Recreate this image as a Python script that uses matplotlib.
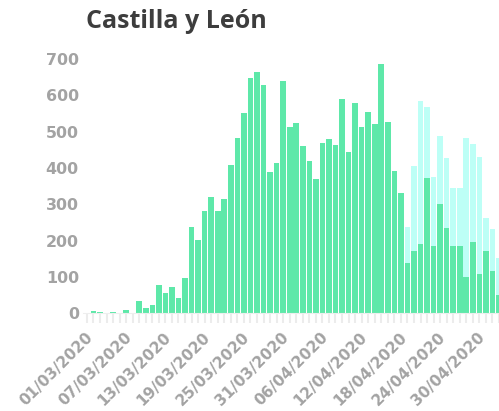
"""daily cases bar chart - Castilla y Leon"""

import matplotlib
matplotlib.use('Agg')
import matplotlib.pyplot as plt
import matplotlib.transforms as mtransforms
import numpy as np
import pandas as pd

# daily values, one per day from 01/03/2020
first_day = '2020-03-01'
green = [0, 6, 4, 0, 3, 0, 8, 1, 33, 15,
         22, 79, 55, 72, 42, 98, 239, 201, 282, 321,
         281, 314, 409, 484, 552, 649, 664, 628, 390, 414,
         640, 512, 523, 461, 419, 370, 468, 480, 463, 589,
         444, 578, 514, 555, 520, 687, 527, 393, 331, 138,
         171, 191, 372, 184, 300, 234, 184, 185, 101, 196,
         109, 172, 117, 51]
# light series only shown from 19/04/2020
cyan_first_day = '2020-04-19'
cyan = [238, 406, 584, 568, 376, 487, 428, 346, 346, 482,
        465, 430, 262, 233, 151]
yticks = [0, 100, 200, 300, 400, 500, 600, 700]
label_every = 6

days = pd.date_range(first_day, periods=len(green))
x = np.arange(len(days))
cyan_x = x[days.get_loc(pd.Timestamp(cyan_first_day)):][:len(cyan)]

W, H = 499, 411
fig = plt.figure(figsize=(W / 100, H / 100), dpi=100)
ax = fig.add_axes([83 / W, 97.7 / H, (W - 83) / W, 263.3 / H])

ax.bar(cyan_x, cyan, width=0.86, color='#bdfff6', zorder=1)
ax.bar(x, green, width=0.86, color='#5ee8a9', zorder=2)

ax.set_xlim(-0.6, 62.9)
ax.set_ylim(0, 725)

for side in ['top', 'right', 'left']:
    ax.spines[side].set_visible(False)
ax.spines['bottom'].set_color('#eeeeee')

ax.set_yticks(yticks)
ax.tick_params(axis='y', length=0, pad=3, labelsize=11.4, labelcolor='#a3a3a3')
for lab in ax.get_yticklabels():
    lab.set_fontweight('bold')

ax.set_xticks(x[::label_every])
ax.set_xticklabels([d.strftime('%d/%m/%Y') for d in days[::label_every]],
                   rotation=45, ha='right', va='top', rotation_mode='anchor',
                   fontsize=11, fontweight='bold', color='#a3a3a3')
ax.set_xticks(x, minor=True)
ax.tick_params(axis='x', which='both', length=7, width=1.5, color='#ececec', pad=5)
offset = mtransforms.ScaledTranslation(-2 / 100, 0, fig.dpi_scale_trans)
for lab in ax.get_xticklabels():
    lab.set_transform(lab.get_transform() + offset)

fig.text(86 / W, 1 - 22 / H, 'Castilla y León', fontsize=18, fontweight='bold',
         color='#3d3d3d', family='Open Sans', va='center', ha='left')

fig.savefig('out.png', dpi=100)
